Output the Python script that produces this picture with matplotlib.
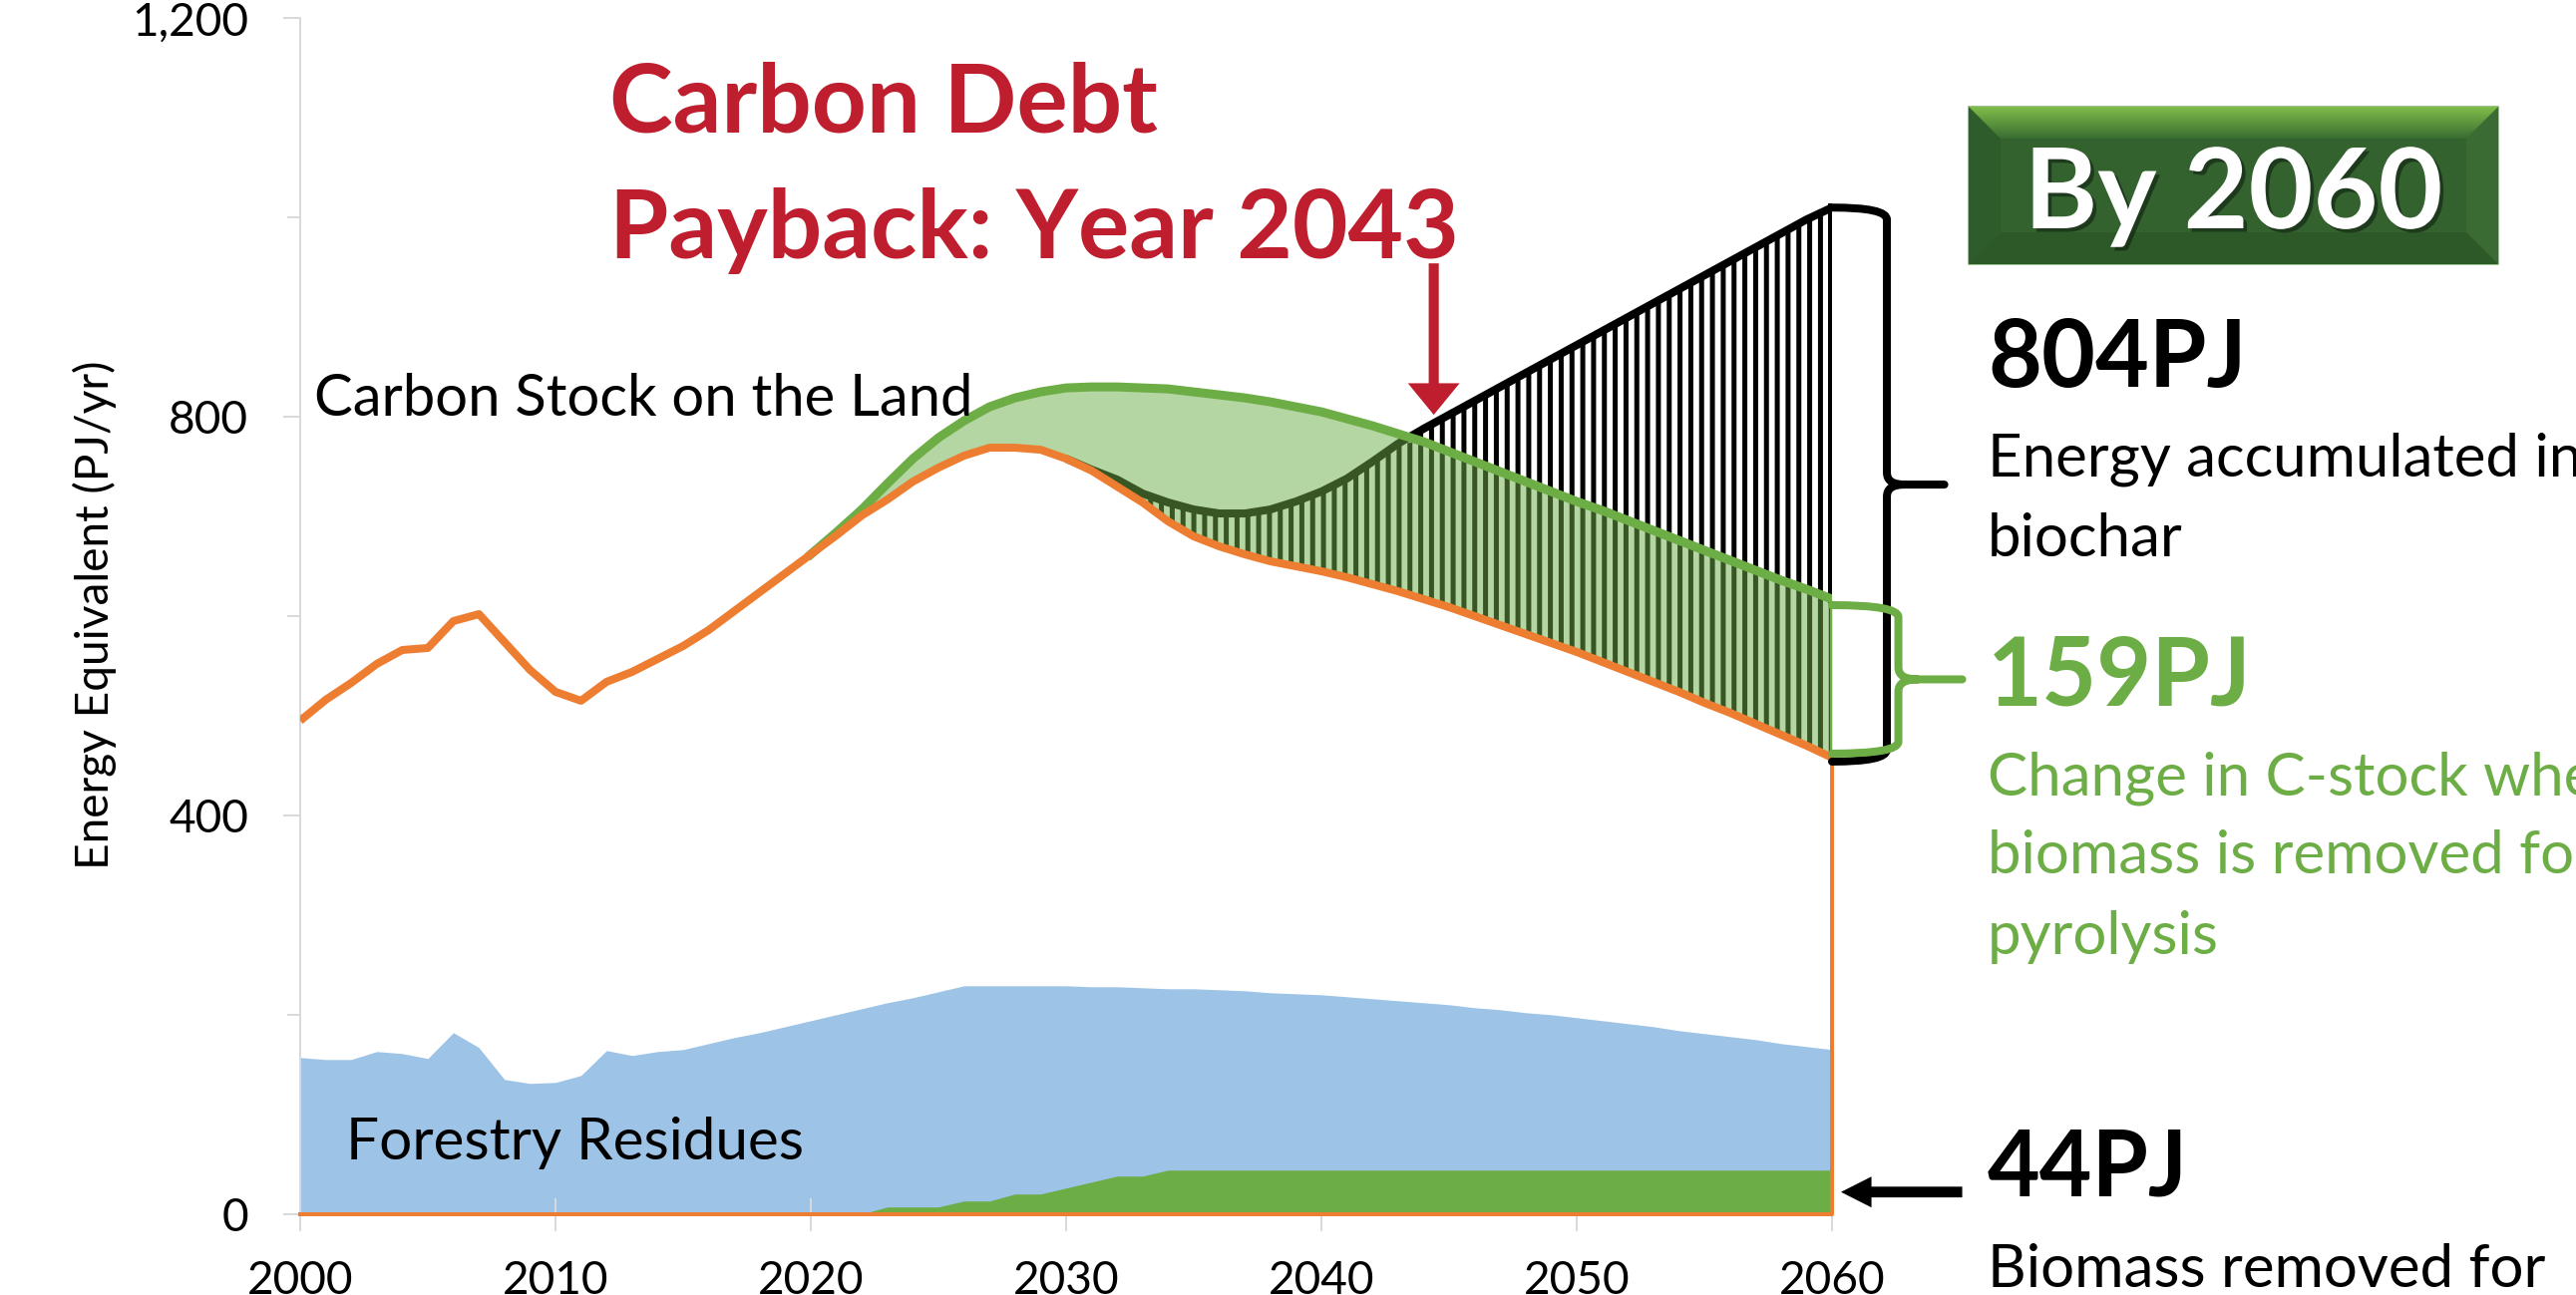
import numpy as np
import matplotlib.pyplot as plt
from matplotlib.path import Path
from matplotlib.patches import PathPatch, Polygon, Rectangle
from matplotlib.colors import LinearSegmentedColormap
from matplotlib.ticker import FuncFormatter, MultipleLocator
import matplotlib.patheffects as pe

W, H, DPI = 2583, 1299, 130


def pt(px):
    # pixel size -> points at this dpi
    return px * 72 / DPI


plt.rcParams['font.family'] = ['Lato', 'DejaVu Sans']
plt.rcParams['hatch.linewidth'] = pt(5)

# --- data (PJ/yr) ---
years = np.arange(2000, 2061)
residues = np.array([157, 155, 155, 163, 161, 156, 182, 167, 135, 131,
                     132, 139, 164, 159, 163, 165, 171, 177, 182, 188,
                     194, 200, 206, 212, 217, 223, 229, 229, 229, 229,
                     229, 228, 228, 227, 226, 226, 225, 224, 222, 221,
                     220, 218, 216, 214, 212, 210, 207, 205, 202, 200,
                     197, 194, 191, 188, 184, 181, 178, 175, 171, 168,
                     165])
removed = np.array([0] * 23 + [7, 7, 7, 13, 13, 20, 20, 26, 32, 38, 38] + [44] * 27)
stock_with_removal = np.array([495, 516, 533, 552, 566, 568, 595, 602, 574, 546,
                               524, 515, 534, 544, 557, 570, 586, 605, 624, 643,
                               662, 681, 701, 717, 735, 749, 761, 769, 769, 767,
                               758, 746, 730, 714, 695, 680, 670, 662, 655, 650,
                               645, 639, 632, 625, 617, 609, 600, 591, 582, 573,
                               564, 554, 544, 534, 524, 513, 503, 492, 481, 470,
                               458])
land_years = np.arange(2020, 2061)
stock_land = np.array([662, 684, 707, 733, 758, 779, 796, 810, 819, 825,
                       829, 830, 830, 829, 828, 825, 822, 819, 815, 810,
                       805, 798, 791, 783, 775, 765, 755, 745, 735, 725,
                       715, 706, 696, 686, 676, 666, 656, 646, 636, 627,
                       617])
char_years = np.arange(2030, 2061)
stock_with_char = np.array([758, 747, 737, 723, 714, 707, 703, 703, 707, 715,
                            725, 738, 755, 773, 788, 802, 816, 830, 844, 858,
                            872, 886, 900, 914, 928, 942, 956, 970, 984, 998,
                            1010])

BLUE = '#9DC3E6'
GREEN = '#6DAD45'
LIGHT = '#B4D6A3'
DARK = '#375623'
ORANGE = '#ED7D31'
RED = '#BE1E2D'
GRID = '#D9D9D9'

fig = plt.figure(figsize=(W / DPI, H / DPI), dpi=DPI)
ax = fig.add_axes([301 / W, 1 - 1217.7 / H, (1837 - 301) / W, (1217.7 - 18.3) / H])

# areas at the bottom
ax.fill_between(years, 0, residues, color=BLUE, lw=0, zorder=1)
ax.fill_between(years, 0, removed, color=GREEN, lw=0, zorder=2)

# carbon debt region between the two stock curves
low_land = stock_with_removal[years >= 2020]
ax.fill_between(land_years, low_land, stock_land, color=LIGHT, lw=0, zorder=2)

low_char = stock_with_removal[years >= 2030]
land_char = stock_land[land_years >= 2030]
ax.fill_between(char_years, low_char, np.minimum(stock_with_char, land_char),
                facecolor='none', edgecolor=DARK, hatch='||', lw=0, zorder=3)
ax.fill_between(char_years, land_char, stock_with_char,
                where=stock_with_char >= land_char, interpolate=True,
                facecolor='white', edgecolor='black', hatch='||', lw=0, zorder=3)

# biochar line: dark green below the land curve, black once above it
d = stock_with_char - land_char
i = int(np.argmax(d > 0))
f = -d[i - 1] / (d[i] - d[i - 1])
xc = char_years[i - 1] + f
yc = stock_with_char[i - 1] + f * (stock_with_char[i] - stock_with_char[i - 1])
ax.plot(np.r_[char_years[:i], xc], np.r_[stock_with_char[:i], yc],
        color=DARK, lw=pt(8), zorder=4, solid_capstyle='butt')
ax.plot(np.r_[xc, char_years[i:]], np.r_[yc, stock_with_char[i:]],
        color='black', lw=pt(8), zorder=4, solid_capstyle='butt')
ax.plot([years[-1]] * 2, [land_char[-1], stock_with_char[-1]],
        color='black', lw=pt(8), zorder=4)

ax.plot(land_years, stock_land, color=GREEN, lw=pt(9), zorder=5,
        solid_joinstyle='round')
ax.plot([years[-1]] * 2, [stock_with_removal[-1], stock_land[-1]],
        color=GREEN, lw=pt(5), zorder=5)
ax.plot(years, stock_with_removal, color=ORANGE, lw=pt(8), zorder=6,
        solid_joinstyle='round', solid_capstyle='butt')
ax.plot([years[-1], years[-1], years[0]], [stock_with_removal[-1], 0, 0],
        color=ORANGE, lw=pt(4), zorder=6, clip_on=False)


def brace(x_start, x_vert, x_tip, top, bottom, color):
    mid = (top + bottom) / 2
    r = 12
    k = (x_tip - x_vert) * 0.3
    verts = [(x_start, top), (x_vert, top), (x_vert, top - r),
             (x_vert, mid + r), (x_vert, mid), (x_vert + k, mid),
             (x_tip, mid),
             (x_vert + k, mid), (x_vert, mid), (x_vert, mid - r),
             (x_vert, bottom + r), (x_vert, bottom), (x_start, bottom)]
    codes = [Path.MOVETO, Path.CURVE3, Path.CURVE3,
             Path.LINETO, Path.CURVE3, Path.CURVE3,
             Path.LINETO,
             Path.MOVETO, Path.CURVE3, Path.CURVE3,
             Path.LINETO, Path.CURVE3, Path.CURVE3]
    ax.add_patch(PathPatch(Path(verts, codes), fill=False, ec=color, lw=pt(8),
                           capstyle='round', joinstyle='round',
                           clip_on=False, zorder=7))


brace(years[-1], 2062.15, 2064.4, stock_with_char[-1], stock_with_removal[-1] - 4, 'black')
brace(years[-1], 2062.6, 2065.1, stock_land[-1] - 6, stock_with_removal[-1] + 4, GREEN)

# arrows
ax.annotate('', xy=(2044.4, 802), xytext=(2044.4, 954),
            arrowprops=dict(arrowstyle='simple,head_length=0.88,head_width=1.44,tail_width=0.28',
                            color=RED, lw=0, mutation_scale=pt(36),
                            shrinkA=0, shrinkB=0), zorder=8)
ax.annotate('', xy=(years[-1] + 0.35, removed[-1] / 2),
            xytext=(2065.1, removed[-1] / 2), annotation_clip=False,
            arrowprops=dict(arrowstyle='simple,head_length=0.85,head_width=0.86,tail_width=0.3',
                            color='black', lw=0, mutation_scale=pt(36),
                            shrinkA=0, shrinkB=0), zorder=8)

# axes styling
ax.set_xlim(2000, 2060)
ax.set_ylim(0, 1200)
ax.set_xticks(range(2000, 2061, 10))
ax.set_yticks([0, 400, 800, 1200])
ax.yaxis.set_minor_locator(MultipleLocator(200))
ax.yaxis.set_major_formatter(FuncFormatter(lambda v, p: f'{v:,.0f}'))
for s in ['top', 'right']:
    ax.spines[s].set_visible(False)
for s in ['left', 'bottom']:
    ax.spines[s].set_color(GRID)
    ax.spines[s].set_linewidth(pt(2))
ax.patch.set_visible(False)
ax.tick_params(axis='y', which='major', length=pt(17), width=pt(2), color=GRID,
               pad=pt(35), labelsize=pt(46))
ax.tick_params(axis='y', which='minor', length=pt(13), width=pt(2), color=GRID)
ax.tick_params(axis='x', direction='inout', length=pt(33), width=pt(2), color=GRID,
               pad=pt(30), labelsize=pt(46))

# overlay in pixel coordinates for the text and the header box
ov = fig.add_axes([0, 0, 1, 1])
ov.axis('off')

ov.text(95, 617, 'Energy Equivalent (PJ/yr)', rotation=90, ha='center', va='center',
        fontsize=pt(46))
ov.text(611, 132, 'Carbon Debt', color=RED, fontsize=pt(96), fontweight='bold', va='baseline')
ov.text(611, 259, 'Payback: Year 2043', color=RED, fontsize=pt(96), fontweight='bold',
        va='baseline')
ov.text(315, 417, 'Carbon Stock on the Land', fontsize=pt(58), va='baseline')
ov.text(347, 1163, 'Forestry Residues', fontsize=pt(58.5), va='baseline')

# "By 2060" bevelled box
bx0, bx1, by0, by1, bev = 1974, 2505, 107, 265, 32
ov.add_patch(Rectangle((bx0, by0), bx1 - bx0, by1 - by0, fc='#33622F', ec='#7FB069', lw=pt(1.5)))
ov.add_patch(Polygon([(bx0, by0), (bx0 + bev, by0 + bev), (bx0 + bev, by1 - bev), (bx0, by1)],
                     fc='#2F5C2B', lw=0))
ov.add_patch(Polygon([(bx1, by0), (bx1 - bev, by0 + bev), (bx1 - bev, by1 - bev), (bx1, by1)],
                     fc='#3A6B33', lw=0))
ov.add_patch(Polygon([(bx0, by1), (bx0 + bev, by1 - bev), (bx1 - bev, by1 - bev), (bx1, by1)],
                     fc='#2D5929', lw=0))
top_bevel = Polygon([(bx0, by0), (bx1, by0), (bx1 - bev, by0 + bev), (bx0 + bev, by0 + bev)],
                    fc='none', lw=0)
ov.add_patch(top_bevel)
grad = ov.imshow(np.linspace(0, 1, 64)[:, None], aspect='auto', origin='upper',
                 cmap=LinearSegmentedColormap.from_list('bev', ['#80BD4A', '#3A6D32']),
                 extent=(bx0, bx1, by0 + bev, by0), zorder=2)
grad.set_clip_path(top_bevel)
ov.text((bx0 + bx1) / 2, 229, 'By 2060', color='white', fontsize=pt(112), fontweight='bold',
        ha='center', va='baseline', zorder=3,
        path_effects=[pe.SimplePatchShadow(offset=(2, -2), shadow_rgbFace='black', alpha=0.4),
                      pe.Normal()])

tx = 1993
ov.text(tx, 388, '804PJ', fontsize=pt(93), fontweight='bold', va='baseline')
ov.text(tx, 477, 'Energy accumulated in', fontsize=pt(60), va='baseline')
ov.text(tx, 558, 'biochar', fontsize=pt(60), va='baseline')
ov.text(tx, 707, '159PJ', color=GREEN, fontsize=pt(95), fontweight='bold', va='baseline')
ov.text(tx, 797, 'Change in C-stock when', color=GREEN, fontsize=pt(60), va='baseline')
ov.text(tx, 876, 'biomass is removed for', color=GREEN, fontsize=pt(60), va='baseline')
ov.text(tx, 957, 'pyrolysis', color=GREEN, fontsize=pt(60), va='baseline')
ov.text(tx, 1200, '44PJ', fontsize=pt(91), fontweight='bold', va='baseline')
ov.text(tx, 1291, 'Biomass removed for', fontsize=pt(60), va='baseline')

ov.set_xlim(0, W)
ov.set_ylim(H, 0)

fig.savefig('out.png', dpi=DPI)
